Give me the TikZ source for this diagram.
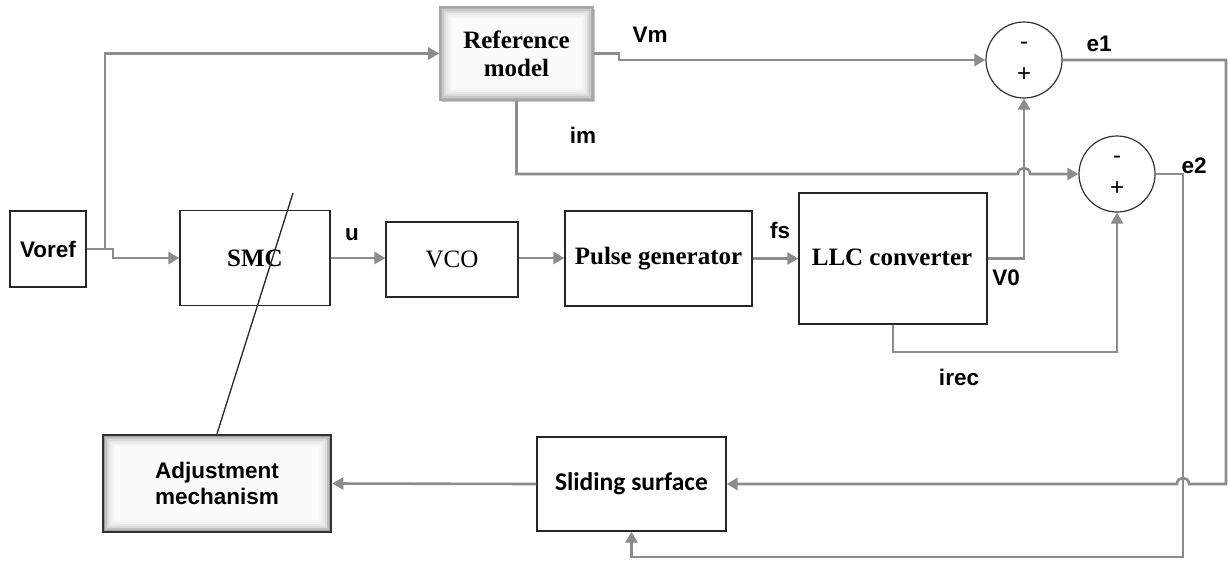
\documentclass[tikz,border=0pt]{standalone}
\usepackage{fontspec}
\setmainfont{Liberation Serif}
\setsansfont{Liberation Sans}
\newfontfamily\calib{Carlito}
\usetikzlibrary{arrows.meta,shadows}
\begin{document}
\begin{tikzpicture}[x=1pt,y=-1pt,
  blk/.style={draw=black!85, line width=1.3pt, inner sep=0pt, fill=white},
  conn/.style={draw=black!45, line width=2.6pt},
  arr/.style={conn, -{Triangle[length=11pt,width=12pt]}},
  sumc/.style={circle, draw=black!80, line width=1.2pt, minimum size=76pt, inner sep=0pt},
  lbl/.style={font=\sffamily\bfseries\fontsize{22.5}{25}\selectfont, inner sep=0pt},
  sgn/.style={font=\sffamily\fontsize{24}{26}\selectfont, inner sep=0pt},
  serb/.style={font=\bfseries\fontsize{25}{28}\selectfont, align=center},
  glowbox/.style 2 args={inner sep=0pt, align=center,
    path picture={
      \foreach \i/\c in {0/#1,2/#2,4/28,6/18,8/11,10/6,12/3}{
        \fill[gray!\c] ([xshift=\i pt,yshift=-\i pt]path picture bounding box.north west)
          rectangle ([xshift=-\i pt,yshift=\i pt]path picture bounding box.south east);
      }
    }},
]
\useasboundingbox (0,0) rectangle (1228,563);

% blocks
\node[blk, minimum width=76pt, minimum height=76pt, lbl] (voref) at (48,249) {Voref};
\node[blk, minimum width=150pt, minimum height=95pt, serb] (smc) at (255,258) {SMC};
\node[blk, minimum width=132pt, minimum height=75pt, font=\fontsize{25}{28}\selectfont] (vco) at (452,259.5) {VCO};
\node[blk, minimum width=187pt, minimum height=95pt, serb] (pulse) at (658.5,258.5) {Pulse generator};
\node[blk, minimum width=188pt, minimum height=131pt] (llc) at (893,258.5) {};
\node[serb, inner sep=0pt] (llct) at (892,257) {LLC converter};
\node[glowbox={60}{42}, draw=gray!70, line width=1.6pt, minimum width=153pt, minimum height=93pt,
      drop shadow={shadow xshift=2pt, shadow yshift=-2pt, fill=gray!55, opacity=0.8},
      font=\bfseries\fontsize{25}{28}\selectfont] (ref) at (516.5,53.5) {Reference\\model};
\node[glowbox={75}{50}, draw=black!80, line width=2.6pt, minimum width=228pt, minimum height=97pt,
      font=\sffamily\bfseries\fontsize{22.5}{26}\selectfont] (adj) at (217,483.5) {Adjustment\\mechanism};
\node[blk, minimum width=189pt, minimum height=94pt, font=\calib\bfseries\fontsize{25.5}{28}\selectfont] (slide) at (631.5,484) {Sliding surface};

% summing junctions
\node[sumc] (s1) at (1024,60) {};
\node[sgn] (s1m) at (1024,46) {-};
\node[sgn] (s1p) at (1024,75) {+};
\node[sumc] (s2) at (1117,174) {};
\node[sgn] (s2m) at (1117,160) {-};
\node[sgn] (s2p) at (1117,189) {+};

% labels
\node[lbl] (lu) at (352,235) {u};
\node[lbl] (lfs) at (780,230) {fs};
\node[lbl] (lv0) at (1006,278) {V0};
\node[lbl] (lirec) at (959,377) {irec};
\node[lbl] (le1) at (1099,44) {e1};
\node[lbl] (le2) at (1194,166) {e2};
\node[lbl] (lvm) at (650,35) {Vm};
\node[lbl] (lim) at (583,135) {im};

% connectors
\draw[arr] (voref.east) -- (105,249) |- (ref.west);
\draw[arr] (105,249) -- (113,249) -- (113,258) -- (smc.west);
\draw[arr] (smc.east) -- (vco.west |- smc.east);
\draw[arr] (vco.east |- 0,258) -- (pulse.west |- 0,258);
\draw[arr] (pulse.east) -- (llc.west);
\draw[arr] (ref.east) -- (619,53.5) -- (619,60) -- (s1.west);
\draw[arr] (llc.east) -- (1024,258.5) -- (s1.south);
\draw[arr] (ref.south) -- (516.5,174) -- (1018,174) .. controls (1018,166) and (1030,166) .. (1030,174) -- (s2.west);
\draw[arr] (llc.south) -- (893,352) -| (s2.south);
\draw[arr] (s1.east) -- (1226,60) -- (1226,484) -- (1189,484) .. controls (1189,476) and (1177,476) .. (1177,484) -- (slide.east);
\draw[arr] (s2.east) -- (1183,174) -- (1183,557) -| (slide.south);
\draw[arr] (slide.west) -- (adj.east);

% adjustment line
\coordinate (dtop) at (293,193);
\draw[black!85, line width=1.3pt] (dtop) -- (adj.north);
\end{tikzpicture}
\end{document}
